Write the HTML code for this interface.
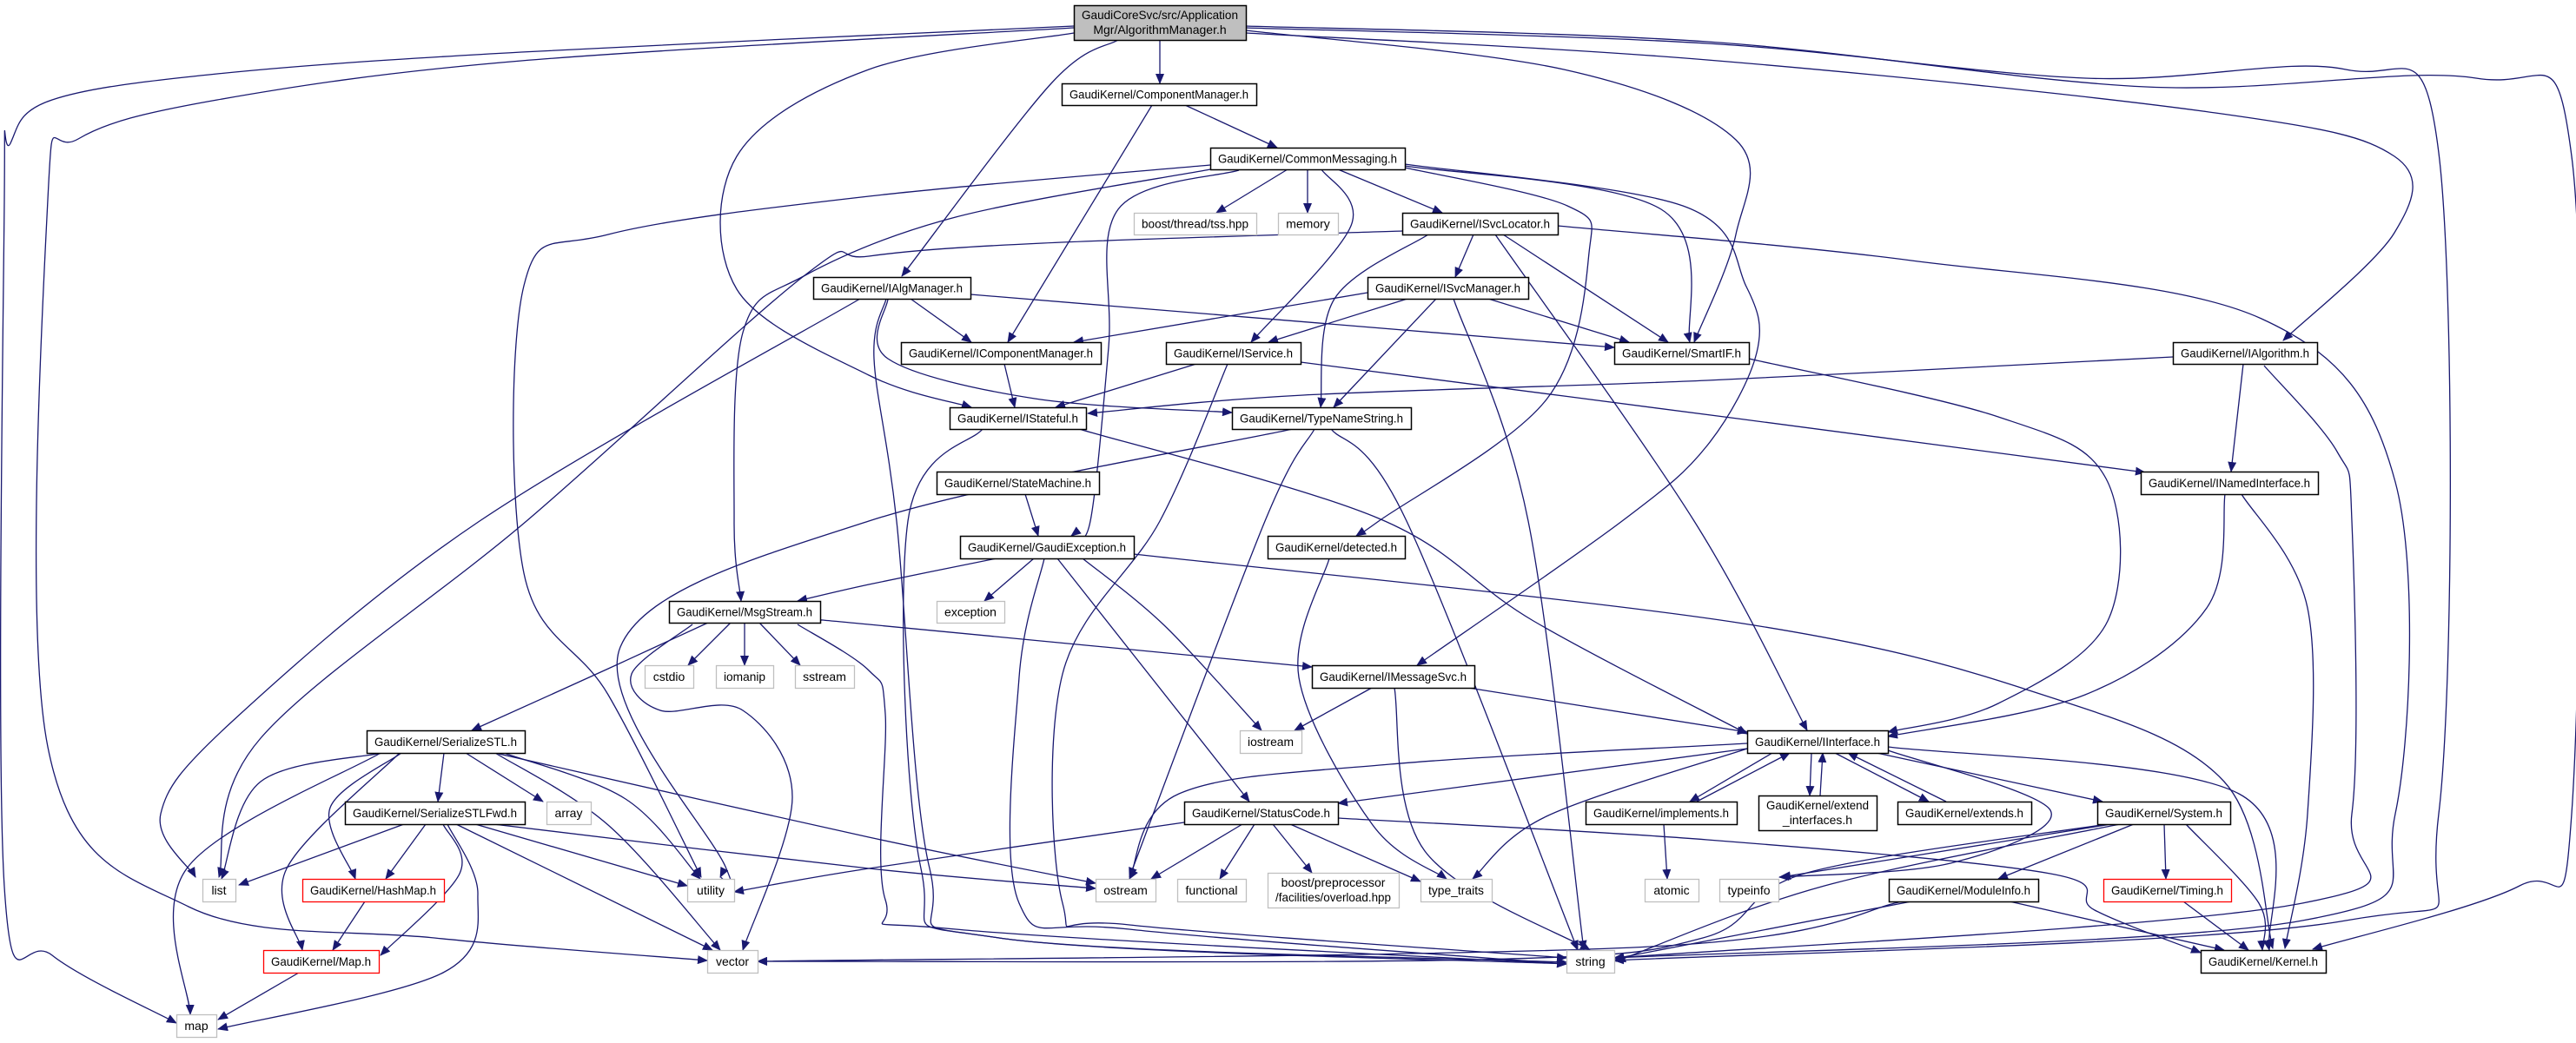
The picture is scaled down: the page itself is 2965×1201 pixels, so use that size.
<!DOCTYPE html>
<html><head><meta charset="utf-8"><style>
html,body{margin:0;padding:0;background:#fff;}
svg{display:block;}
text{font-family:"Liberation Sans",sans-serif;font-size:14px;fill:#000;}
</style></head><body>
<svg id="g" width="2965" height="1201" viewBox="0 0 2965 1201" xmlns="http://www.w3.org/2000/svg">
<defs><marker id="a" markerWidth="12" markerHeight="10" refX="11" refY="5" orient="auto" markerUnits="userSpaceOnUse"><path d="M0,0 L12,5 L0,10 z" fill="#191970"/></marker></defs>
<g id="edges" fill="none" stroke="#191970" stroke-width="1.3"></g>
<g id="nodes"></g>
</svg>
<script>
var N=[
["GaudiCoreSvc/src/Application|Mgr/AlgorithmManager.h",1236,6,1434,46,"r"],
["GaudiKernel/ComponentManager.h",1222,96,1446,121,"b"],
["GaudiKernel/CommonMessaging.h",1393,170,1617,195,"b"],
["boost/thread/tss.hpp",1305,245,1446,270,"g"],
["memory",1471,245,1540,270,"g"],
["GaudiKernel/ISvcLocator.h",1614,245,1793,270,"b"],
["GaudiKernel/IAlgManager.h",936,319,1117,344,"b"],
["GaudiKernel/ISvcManager.h",1574,319,1759,344,"b"],
["GaudiKernel/IComponentManager.h",1037,394,1267,419,"b"],
["GaudiKernel/IService.h",1342,394,1497,419,"b"],
["GaudiKernel/SmartIF.h",1858,394,2013,419,"b"],
["GaudiKernel/IAlgorithm.h",2501,394,2667,419,"b"],
["GaudiKernel/IStateful.h",1093,469,1250,494,"b"],
["GaudiKernel/TypeNameString.h",1418,469,1624,494,"b"],
["GaudiKernel/StateMachine.h",1078,543,1265,569,"b"],
["GaudiKernel/INamedInterface.h",2464,543,2668,569,"b"],
["GaudiKernel/GaudiException.h",1105,617,1305,643,"b"],
["GaudiKernel/detected.h",1459,617,1617,643,"b"],
["GaudiKernel/MsgStream.h",770,692,944,717,"b"],
["exception",1078,692,1156,717,"g"],
["GaudiKernel/IMessageSvc.h",1510,766,1697,792,"b"],
["cstdio",742,766,798,792,"g"],
["iomanip",824,766,890,792,"g"],
["sstream",915,766,983,792,"g"],
["iostream",1427,841,1498,867,"g"],
["GaudiKernel/SerializeSTL.h",422,841,604,867,"b"],
["GaudiKernel/IInterface.h",2011,841,2173,867,"b"],
["GaudiKernel/SerializeSTLFwd.h",397,923,604,949,"b"],
["array",629,923,680,949,"g"],
["GaudiKernel/StatusCode.h",1363,923,1540,949,"b"],
["GaudiKernel/implements.h",1825,923,1999,949,"b"],
["GaudiKernel/extend|_interfaces.h",2024,916,2160,956,"b"],
["GaudiKernel/extends.h",2184,923,2338,949,"b"],
["GaudiKernel/System.h",2414,923,2567,949,"b"],
["list",233,1012,271,1038,"g"],
["GaudiKernel/HashMap.h",348,1012,511,1038,"x"],
["utility",791,1012,845,1038,"g"],
["ostream",1261,1012,1330,1038,"g"],
["functional",1355,1012,1434,1038,"g"],
["boost/preprocessor|/facilities/overload.hpp",1459,1005,1610,1045,"g"],
["type_traits",1635,1012,1717,1038,"g"],
["atomic",1893,1012,1955,1038,"g"],
["typeinfo",1979,1012,2047,1038,"g"],
["GaudiKernel/ModuleInfo.h",2174,1012,2346,1038,"b"],
["GaudiKernel/Timing.h",2421,1012,2568,1038,"x"],
["GaudiKernel/Map.h",303,1094,436,1120,"x"],
["vector",814,1094,872,1120,"g"],
["string",1803,1094,1858,1120,"g"],
["GaudiKernel/Kernel.h",2533,1094,2677,1120,"b"],
["map",203,1168,249,1194,"g"]
];
var E=[
[1236,30,600,60,250,85,60,115,12,165,5,230,5,1021,60,1100,203,1178],
[1236,32,600,70,250,115,90,160,55,230,55,860,217,1044,500,1080,814,1106],
[1434,38,1965,69,2550,130,2756,180,2756,268,2628,392],
[1434,32,1965,50,2400,90,2700,80,2807,176,2807,937,2700,1060,1858,1106],
[1434,30,1965,48,2470,100,2850,90,2960,180,2960,937,2900,1020,2662,1093],
[1434,35,1800,80,1998,161,1998,270,1950,394],
[1335,46,1335,96],
[1287,46,1210,96,1038,318],
[1236,38,1000,80,848,180,848,333,1000,432,1118,469],
[1393,190,1000,226,700,270,603,329,603,660,700,800,807,1010],
[1393,195,1100,250,925,318,855,383,845,600,853,692],
[990,344,552,600,268,830,185,937,225,1010],
[1614,266,1200,280,1000,295,925,318,606,600,300,850,252,1010],
[1364,121,1470,170],
[1326,121,1160,394],
[1482,195,1400,245],
[1505,195,1505,245],
[1540,195,1660,245],
[1521,195,1555,260,1440,394],
[1426,196,1287,241,1276,400,1255,600,1233,617],
[1617,191,1912,241,1945,394],
[1617,193,1804,237,1829,291,1780,460,1587,600,1561,617],
[1617,189,1937,237,2010,330,2022,406,1965,513,1867,600,1631,766],
[1696,270,1675,319],
[1730,270,1920,394],
[1644,270,1536,344,1520,469],
[1721,270,1950,600,2080,841],
[1793,260,2200,300,2603,367,2757,555,2757,937,2650,1060,1858,1103],
[1574,337,1236,394],
[1620,344,1460,394],
[1713,344,1875,394],
[1653,344,1535,469],
[1673,344,1759,600,1823,1094],
[1048,344,1118,394],
[1117,339,1858,400],
[1022,344,1022,413,1191,459,1418,475],
[1020,344,1006,413,1032,600,1070,1000,1150,1080,1803,1108],
[1156,419,1168,469],
[1377,419,1215,469],
[1497,417,2000,482,2469,544],
[1413,419,1335,600,1223,776,1223,1040,1300,1065,1803,1103],
[2013,413,2300,480,2424,551,2426,715,2300,810,2173,843],
[2501,411,1965,438,1500,455,1252,476],
[2582,419,2568,543],
[2606,421,2690,520,2707,600,2707,937,2650,1040,1858,1103],
[2580,569,2656,700,2656,937,2630,1092],
[2561,569,2540,700,2400,800,2173,848],
[1242,494,1587,597,1765,715,2011,845],
[1131,494,1045,600,1060,1000,1150,1080,1803,1110],
[1488,494,1000,600,714,745,835,998,829,1010],
[1513,494,1456,600,1300,1010],
[1532,494,1619,600,1816,1094],
[1180,569,1195,617],
[1147,643,1000,673,918,692],
[1190,643,1133,692],
[1202,643,1173,780,1173,1040,1300,1070,1803,1110],
[1217,643,1438,923],
[1246,643,1340,720,1452,841],
[1305,638,2000,717,2348,799,2560,900,2616,1092],
[841,717,792,766],
[857,717,857,766],
[874,717,921,766],
[815,717,700,770,543,841],
[944,714,1000,719,1510,768],
[797,719,727,776,760,818,855,818,912,918,855,1094],
[918,719,1000,772,1019,822,1019,1036,1100,1070,1803,1110],
[511,867,504,923],
[536,867,625,923],
[440,867,300,900,255,1012],
[440,866,215,1000,219,1168],
[462,867,380,930,409,1012],
[460,867,330,1000,348,1094],
[580,867,720,920,806,1012],
[570,867,700,950,829,1094],
[574,868,1000,964,1261,1017],
[465,949,275,1019],
[490,949,444,1012],
[510,949,529,1006,438,1100],
[515,949,550,1030,510,1120,251,1185],
[547,949,791,1020],
[525,949,820,1094],
[568,949,1000,1000,1261,1023],
[420,1038,383,1094],
[344,1120,251,1174],
[1579,792,1490,841],
[1605,792,1640,980,1830,1094],
[1690,792,2011,843],
[2011,856,1600,880,1357,914,1300,1012],
[2011,862,1540,925],
[2011,862,1780,940,1695,1012],
[2040,867,1945,923],[1953,923,2060,867],
[2085,867,2083,916],[2095,916,2098,867],
[2112,867,2220,923],[2240,923,2127,867],
[2160,867,2420,923],
[2173,860,2577,914,2612,1094],
[2173,864,2360,933,2245,994,2048,1010],
[1363,947,1000,1000,845,1027],
[1430,949,1325,1012],
[1444,949,1404,1012],
[1465,949,1510,1005],
[1485,949,1635,1015],
[1540,942,1965,967,2360,1006,2411,1048,2533,1097],
[1915,949,1919,1012],
[2430,949,2050,1010],
[2456,949,2300,1012],
[2491,949,2493,1012],
[2516,949,2600,1040,2604,1094],
[2440,949,2100,1020,1860,1107],
[2425,949,2080,1005,1960,1080,1700,1105,872,1107],
[2190,1038,1900,1090,872,1107],
[2200,1038,1858,1104],
[2313,1038,2560,1094],
[2513,1038,2588,1094],
[1530,643,1495,780,1580,950,1665,1012]
];
var NS="http://www.w3.org/2000/svg";
function el(t,a,p){var e=document.createElementNS(NS,t);for(var k in a)e.setAttribute(k,a[k]);p.appendChild(e);return e;}
var eg=document.getElementById("edges"),ng=document.getElementById("nodes");
E.forEach(function(p){
 var pts=[];for(var i=0;i<p.length;i+=2)pts.push([p[i],p[i+1]]);
 var d="M"+pts[0][0]+","+pts[0][1];
 if(pts.length==2){d+=" L"+pts[1][0]+","+pts[1][1];}
 else{for(var i=0;i<pts.length-1;i++){var p0=pts[Math.max(0,i-1)],p1=pts[i],p2=pts[i+1],p3=pts[Math.min(pts.length-1,i+2)];
  var c1=[p1[0]+(p2[0]-p0[0])/6,p1[1]+(p2[1]-p0[1])/6],c2=[p2[0]-(p3[0]-p1[0])/6,p2[1]-(p3[1]-p1[1])/6];
  d+=" C"+c1[0].toFixed(1)+","+c1[1].toFixed(1)+" "+c2[0].toFixed(1)+","+c2[1].toFixed(1)+" "+p2[0]+","+p2[1];}}
 el("path",{d:d,"marker-end":"url(#a)"},eg);
});
N.forEach(function(n){
 var x=n[1],y=n[2],w=n[3]-n[1],h=n[4]-n[2],t=n[5];
 var st=t=="g"?"#bfbfbf":(t=="x"?"#ff0000":"#000");
 el("rect",{x:x+0.5,y:y+0.5,width:w,height:h,fill:t=="r"?"#bfbfbf":"#fff",stroke:st,"stroke-width":t=="b"||t=="r"?1.5:1.3},ng);
 var lines=n[0].split("|");
 lines.forEach(function(s,i){
  var ty=lines.length==1?y+h/2+5:y+h/2-4+i*17;
  var tx=el("text",{x:x+w/2,y:ty,"text-anchor":"middle"},ng);tx.textContent=s;
  var L=0;try{L=tx.getComputedTextLength();}catch(e){}
  if(L>w-18){tx.setAttribute("textLength",w-18);tx.setAttribute("lengthAdjust","spacingAndGlyphs");}
 });
});
</script>
</body></html>
